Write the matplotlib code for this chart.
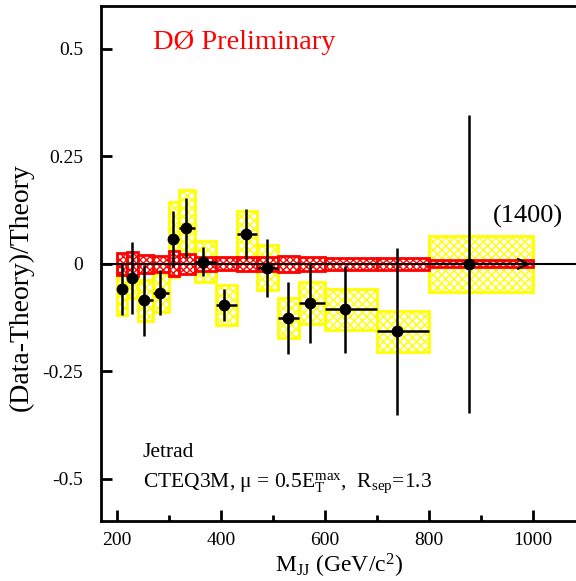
import numpy as np
import matplotlib.pyplot as plt
from matplotlib.patches import Rectangle

plt.rcParams['font.family'] = ['Liberation Serif', 'DejaVu Serif']
plt.rcParams['mathtext.fontset'] = 'custom'
plt.rcParams['mathtext.rm'] = 'Liberation Serif'
plt.rcParams['mathtext.it'] = 'Liberation Serif:italic'
plt.rcParams['hatch.linewidth'] = 1.0

# bin edges and data
lo = np.array([200, 220, 240, 270, 300, 320, 350, 390, 430, 470, 510, 550, 600, 700, 800])
hi = np.array([220, 240, 270, 300, 320, 350, 390, 430, 470, 510, 550, 600, 700, 800, 1000])
mjj = np.array([209, 229, 252, 283, 308, 333, 366, 406, 448, 488, 528, 572, 638, 739, 876])
ratio = np.array([-0.059, -0.033, -0.085, -0.067, 0.057, 0.083, 0.005, -0.095,
                  0.069, -0.009, -0.126, -0.091, -0.106, -0.157, 0.0])
stat = np.array([0.061, 0.083, 0.083, 0.052, 0.065, 0.070, 0.034, 0.037,
                 0.058, 0.068, 0.084, 0.093, 0.102, 0.195, 0.347])
syst = np.array([0.060, 0.046, 0.047, 0.045, 0.087, 0.089, 0.048, 0.047,
                 0.055, 0.052, 0.047, 0.048, 0.048, 0.048, 0.066])
theo = np.array([0.026, 0.027, 0.020, 0.018, 0.029, 0.023, 0.016, 0.015,
                 0.016, 0.016, 0.019, 0.017, 0.013, 0.014, 0.008])

fig = plt.figure(figsize=(5.76, 5.81), dpi=100)
ax = fig.add_axes([0.1753, 0.1033, 0.8247, 0.8864])

# yellow systematic boxes
for l, h, r, s in zip(lo, hi, ratio, syst):
    ax.add_patch(Rectangle((l, r - s), h - l, 2 * s, fill=False, edgecolor='#ffff00',
                           hatch='xxxx', lw=2, zorder=2))
# red theory boxes around zero
for l, h, t in zip(lo, hi, theo):
    ax.add_patch(Rectangle((l, -t), h - l, 2 * t, facecolor='white', edgecolor='#ff0000',
                           hatch='xxxxx', lw=2, zorder=3))

ax.axhline(0, color='k', lw=1.5, zorder=4)

xerr = np.array([mjj - lo, hi - mjj])
xerr[:, -1] = 0
ax.errorbar(mjj, ratio, yerr=stat, xerr=xerr, fmt='o', color='k', ms=7.5,
            elinewidth=1.8, capsize=0, zorder=5)
ax.annotate('', xy=(hi[-1], ratio[-1]), xytext=(lo[-1], ratio[-1]),
            arrowprops=dict(arrowstyle='->', color='k', lw=1.5, mutation_scale=18), zorder=5)

ax.set_xlim(169.2, 1082.7)
ax.set_ylim(-0.598, 0.6)
ax.set_xticks([200, 400, 600, 800, 1000])
ax.set_xticks([300, 500, 700, 900], minor=True)
ax.set_yticks([-0.5, -0.25, 0, 0.25, 0.5])
ax.set_yticklabels(['-0.5', '-0.25', '0', '0.25', '0.5'])
ax.tick_params(direction='in', labelsize=14, width=2, length=8, pad=8)
ax.tick_params(which='minor', direction='in', width=2, length=4)
ax.tick_params(axis='y', pad=13)
for side in ['left', 'top', 'bottom']:
    ax.spines[side].set_linewidth(2)
ax.spines['right'].set_visible(False)

ax.set_xlabel(r'M$_{\rm JJ}$ (GeV/c$^2$)', fontsize=17, labelpad=2)
ax.set_ylabel('(Data-Theory)/Theory', fontsize=20)
ax.yaxis.set_label_coords(-0.141, 0.454)

ax.text(269, 0.5, 'DØ Preliminary', color='red', fontsize=20.5)
ax.text(990, 0.11, '(1400)', fontsize=19, ha='center', va='center')
ax.text(250, -0.449, 'Jetrad', fontsize=15.5)
ax.text(250, -0.519, r'CTEQ3M, μ = 0.5E$_{\rm T}^{\rm max}$,  R$_{\rm sep}$=1.3', fontsize=15.5)

fig.savefig('out.png', dpi=100)
